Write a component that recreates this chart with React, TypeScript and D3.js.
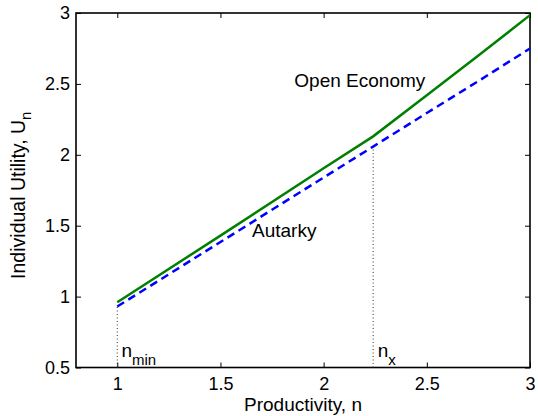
import { useEffect, useRef } from 'react';
import * as d3 from 'd3';

// productivity grid (n) and utility readings
const productivity = [1, 1.5, 2, 2.24, 2.5, 2.75, 3];
const openEconomy = [0.96, 1.43, 1.905, 2.13, 2.42, 2.70, 2.985];
const autarky = [0.93, 1.385, 1.84, 2.058, 2.295, 2.52, 2.75];

const xTicks = [1, 1.5, 2, 2.5, 3];
const yTicks = [0.5, 1, 1.5, 2, 2.5, 3];

const nMin = 1;
const nX = 2.24;

const FONT = "Arial, 'Liberation Sans', Helvetica, sans-serif";

const App = () => {
  const svgRef = useRef<SVGSVGElement>(null);

  useEffect(() => {
    const svg = d3.select(svgRef.current);
    svg.selectAll("*").remove();

    const margin = { top: 13, right: 8, bottom: 48.5, left: 76 };
    const width = 538 - margin.left - margin.right;
    const height = 416 - margin.top - margin.bottom;

    const g = svg
      .append("g")
      .attr("transform", `translate(${margin.left},${margin.top})`);

    const x = d3.scaleLinear().domain([0.8, 3]).range([0, width]);
    const y = d3.scaleLinear().domain([0.5, 3]).range([height, 0]);

    const openData = productivity.map((n, i) => ({ n, u: openEconomy[i] }));
    const autData = productivity.map((n, i) => ({ n, u: autarky[i] }));

    // Axes (ticks pointing inward, MATLAB style box)
    const bottom = g.append("g")
      .attr("transform", `translate(0,${height})`)
      .call(d3.axisBottom(x).tickValues(xTicks).tickSize(-5).tickSizeOuter(0).tickPadding(10)
        .tickFormat(d => String(d)));
    const left = g.append("g")
      .call(d3.axisLeft(y).tickValues(yTicks).tickSize(-5).tickSizeOuter(0).tickPadding(6)
        .tickFormat(d => String(d)));
    g.append("g")
      .call(d3.axisTop(x).tickValues(xTicks).tickSize(-5).tickSizeOuter(0).tickFormat(() => ""));
    g.append("g")
      .attr("transform", `translate(${width},0)`)
      .call(d3.axisRight(y).tickValues(yTicks).tickSize(-5).tickSizeOuter(0).tickFormat(() => ""));

    g.selectAll(".domain").remove();
    g.selectAll(".tick line").attr("stroke", "#000").attr("stroke-width", 1);
    [bottom, left].forEach(a => a.selectAll("text")
      .attr("font-family", FONT)
      .attr("font-size", 18)
      .attr("fill", "#000"));

    g.append("rect")
      .attr("width", width)
      .attr("height", height)
      .attr("fill", "none")
      .attr("stroke", "#000")
      .attr("stroke-width", 1.6);

    // dotted markers at n_min and n_x
    const autAt = (n: number) => d3.scaleLinear().domain(productivity).range(autarky)(n);
    [nMin, nX].forEach(n => {
      g.append("line")
        .attr("x1", x(n)).attr("x2", x(n))
        .attr("y1", y(0.5)).attr("y2", y(autAt(n)))
        .attr("stroke", "#333")
        .attr("stroke-width", 1)
        .attr("stroke-dasharray", "1,2.5");
    });

    const line = d3.line<{ n: number; u: number }>()
      .x(d => x(d.n))
      .y(d => y(d.u));

    g.append("path")
      .datum(autData)
      .attr("fill", "none")
      .attr("stroke", "#0000ff")
      .attr("stroke-width", 2.5)
      .attr("stroke-dasharray", "8,5")
      .attr("d", line);

    g.append("path")
      .datum(openData)
      .attr("fill", "none")
      .attr("stroke", "#008000")
      .attr("stroke-width", 2.5)
      .attr("d", line);

    // annotations
    const txt = (n: number, u: number) => g.append("text")
      .attr("x", x(n)).attr("y", y(u))
      .attr("font-family", FONT)
      .attr("font-size", 19)
      .attr("fill", "#000");

    txt(1.858, 2.478).text("Open Economy");
    txt(1.653, 1.418).text("Autarky");

    const nm = txt(1.02, 0.575);
    nm.append("tspan").text("n");
    nm.append("tspan").attr("dy", 8).attr("font-size", 15).text("min");

    const nx = txt(2.262, 0.575);
    nx.append("tspan").text("n");
    nx.append("tspan").attr("dy", 8).attr("font-size", 15).text("x");

    // axis labels
    g.append("text")
      .attr("x", width / 2)
      .attr("y", height + 43.5)
      .attr("text-anchor", "middle")
      .attr("font-family", FONT)
      .attr("font-size", 19)
      .text("Productivity, n");

    const yl = g.append("text")
      .attr("transform", `translate(${-51},${height / 2 + 5}) rotate(-90)`)
      .attr("text-anchor", "middle")
      .attr("font-family", FONT)
      .attr("font-size", 19.5);
    yl.append("tspan").text("Individual Utility, U");
    yl.append("tspan").attr("dy", 6).attr("font-size", 15).text("n");
  }, []);

  return (
    <svg
      ref={svgRef}
      width={538}
      height={416}
      style={{ position: 'absolute', left: 0, top: 0, background: '#fff' }}
    />
  );
};

export default App;
